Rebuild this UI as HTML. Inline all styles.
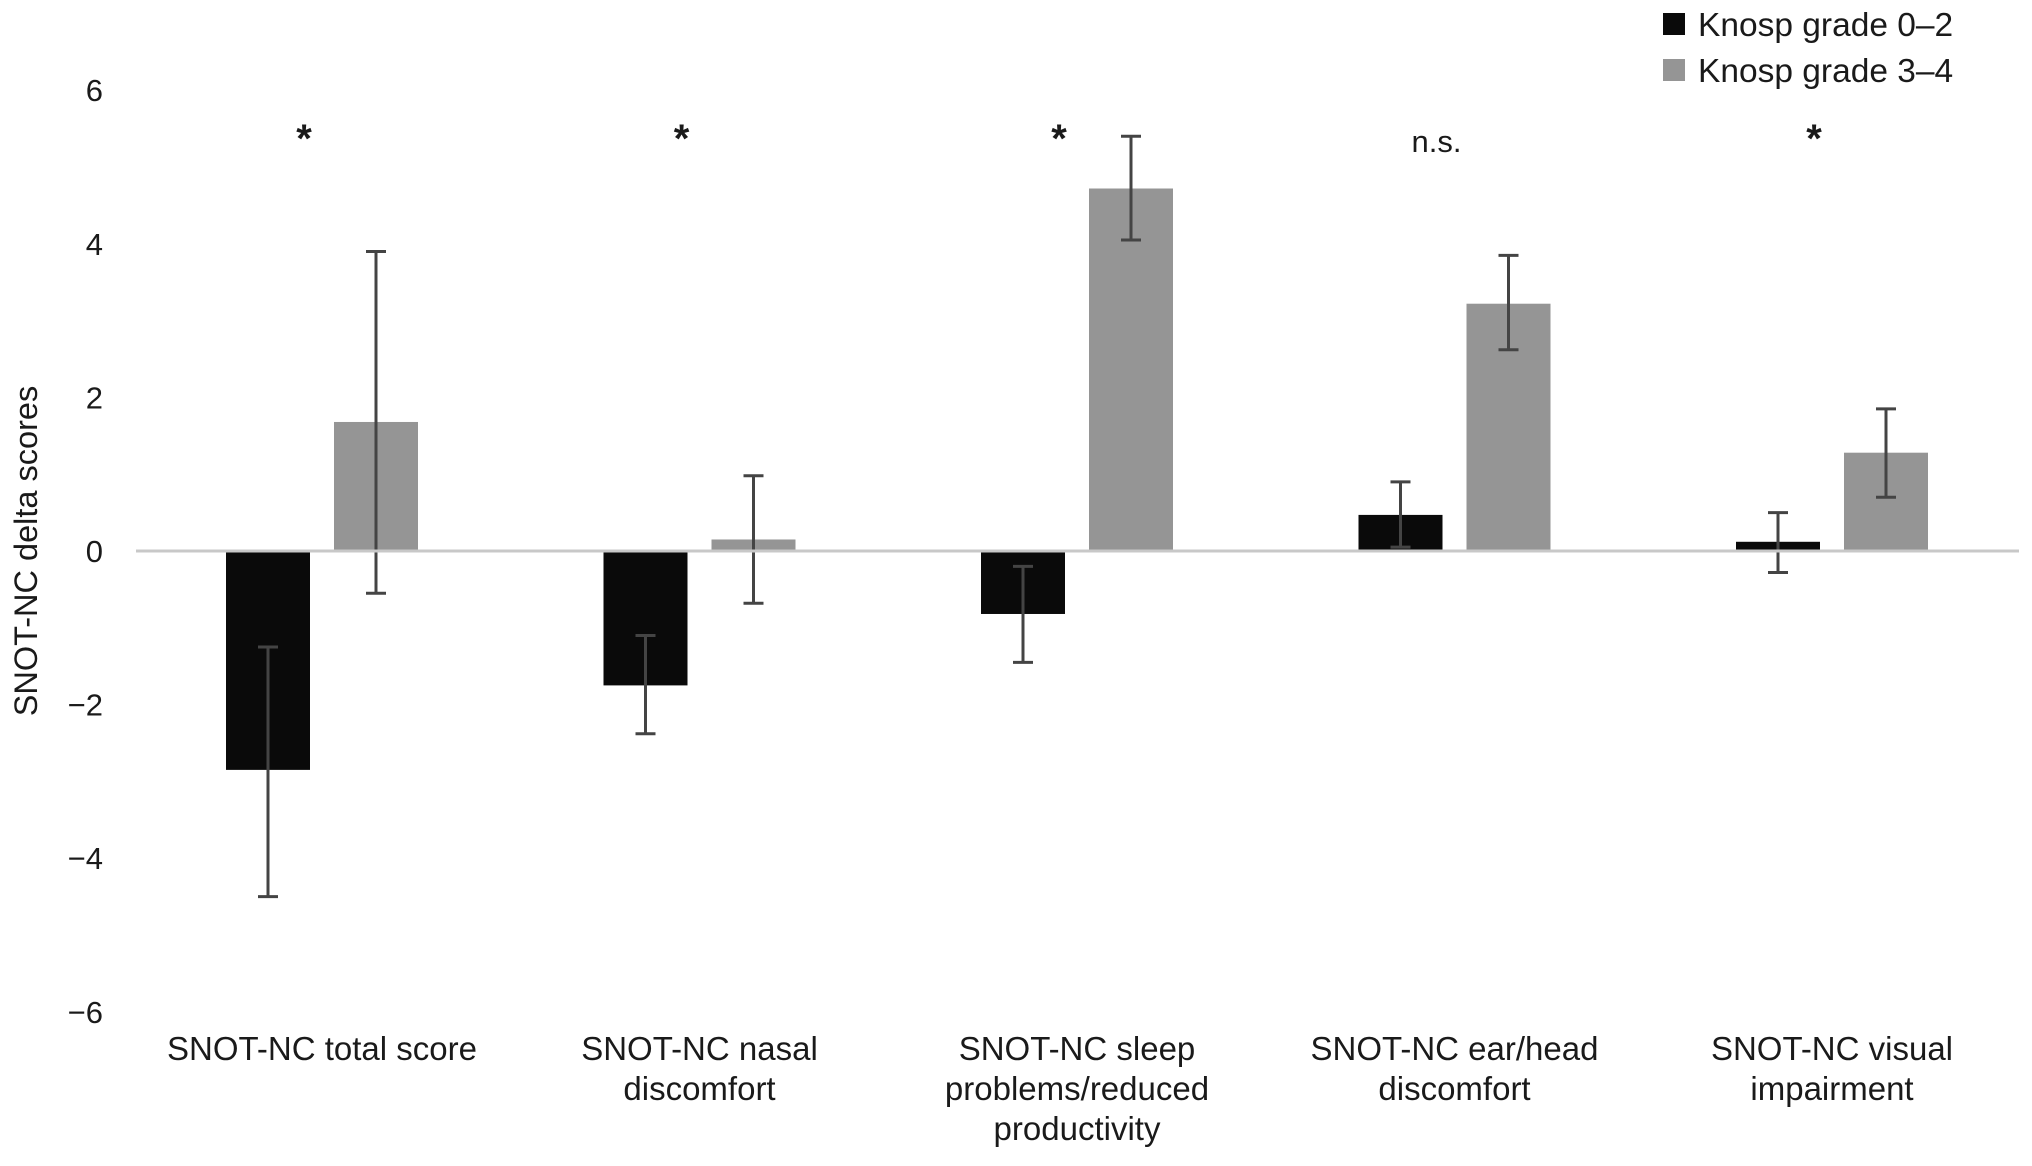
<!DOCTYPE html>
<html><head><meta charset="utf-8"><style>
html,body{margin:0;padding:0;background:#fff;}
svg text{font-family:"Liberation Sans",Arial,sans-serif;fill:#1a1a1a;}
</style></head><body>
<svg id="chart" width="2032" height="1161" viewBox="0 0 2032 1161" xmlns="http://www.w3.org/2000/svg"></svg>
<script>
const categories = [["SNOT-NC total score"],["SNOT-NC nasal","discomfort"],["SNOT-NC sleep","problems/reduced","productivity"],["SNOT-NC ear/head","discomfort"],["SNOT-NC visual","impairment"]];
const seriesLow = [-2.85, -1.75, -0.82, 0.47, 0.12];
const lowErrLo = [-4.5, -2.38, -1.45, 0.05, -0.28];
const lowErrHi = [-1.25, -1.1, -0.2, 0.9, 0.5];
const seriesHigh = [1.68, 0.15, 4.72, 3.22, 1.28];
const highErrLo = [-0.55, -0.68, 4.05, 2.62, 0.7];
const highErrHi = [3.9, 0.98, 5.4, 3.85, 1.85];
const significance = ["*","*","*","n.s.","*"];
const yTicks = [6,4,2,0,-2,-4,-6];
const yTickLabels = ["6","4","2","0","\u22122","\u22124","\u22126"];
const seriesNames = ["Knosp grade 0\u20132","Knosp grade 3\u20134"];

const svg = document.getElementById('chart');
const NS = 'http://www.w3.org/2000/svg';
const y = v => 551 - v * 76.8;
const xGroup = i => 322 + i * 377.5;
const barW = 84;
function mk(tag, attrs, parent){const e=document.createElementNS(NS,tag);for(const k in attrs)e.setAttribute(k,attrs[k]);(parent||svg).appendChild(e);return e;}

yTicks.forEach((t,i)=>{
  const tx = mk('text',{x:103,y:y(t)+11,'text-anchor':'end','font-size':31});
  tx.textContent = yTickLabels[i];
  
  
});
const yl = mk('text',{x:0,y:0,'font-size':32.5,'text-anchor':'middle',transform:'translate(37,551) rotate(-90)'});
yl.textContent = 'SNOT-NC delta scores';



function drawBar(cx, v, lo, hi, color, name){
  const r = mk('rect',{x:cx-barW/2,y:Math.min(y(v),y(0)),width:barW,height:Math.abs(y(v)-y(0)),fill:color});
  
  
  const g = mk('g',{stroke:'#444','stroke-width':3});
  
  
  mk('line',{x1:cx,x2:cx,y1:y(lo),y2:y(hi)},g);
  mk('line',{x1:cx-10,x2:cx+10,y1:y(lo),y2:y(lo)},g);
  mk('line',{x1:cx-10,x2:cx+10,y1:y(hi),y2:y(hi)},g);
}
categories.forEach((c,i)=>{
  const cx = xGroup(i);
  drawBar(cx-54, seriesLow[i], lowErrLo[i], lowErrHi[i], '#0a0a0a', 'bar-grade-0-2');
  drawBar(cx+54, seriesHigh[i], highErrLo[i], highErrHi[i], '#959595', 'bar-grade-3-4');
  const star = significance[i]=='*';
  const s = mk('text',{x:cx-18,y:star?152:152,'text-anchor':'middle','font-size':star?40:31,'font-weight':star?'bold':'normal'});
  s.textContent = significance[i];
  
  
  c.forEach((line,j)=>{
    const t = mk('text',{x:cx,y:1060+j*40,'text-anchor':'middle','font-size':33});
    t.textContent = line;
    
    
  });
});
const zl = mk('line',{x1:136,x2:2019,y1:551,y2:551,stroke:'#c8c8c8','stroke-width':3});



seriesNames.forEach((n,i)=>{
  const g = mk('g',{});
  
  
  mk('rect',{x:1663,y:13+i*46,width:22,height:22,fill:i?'#959595':'#0a0a0a'},g);
  const t = mk('text',{x:1698,y:36+i*46,'font-size':33.5},g);
  t.textContent = n;
});
</script>
</body></html>
